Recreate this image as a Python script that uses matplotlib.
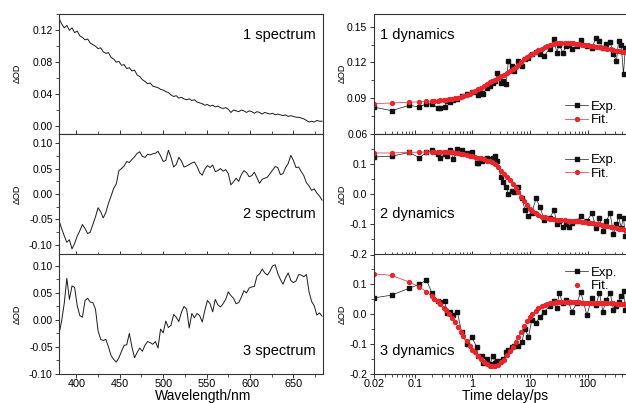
import numpy as np
import matplotlib
matplotlib.use("Agg")
import matplotlib.pyplot as plt
from matplotlib.ticker import MultipleLocator, FixedLocator, LogLocator, NullFormatter, FormatStrFormatter

plt.rcParams['font.family'] = ['Liberation Sans', 'DejaVu Sans']
plt.rcParams['axes.unicode_minus'] = False

# ---- spectra (3 nm grid) ----
wavelength = np.arange(380, 684, 3)

spec1 = [.135, .128, .123, .126, .120, .123, .117, .119, .113, .111, .108, .109, .104, .102, .100, .097,
         .098, .093, .091, .092, .086, .084, .080, .081, .076, .077, .072, .073, .069, .070, .064, .062,
         .058, .056, .053, .054, .050, .049, .048, .046, .045, .043, .042, .039, .037, .038, .035, .036,
         .034, .033, .034, .032, .033, .030, .029, .028, .026, .027, .025, .026, .024, .025, .023, .022,
         .023, .021, .017, .020, .019, .018, .020, .019, .017, .019, .018, .016, .018, .017, .015, .017,
         .016, .015, .016, .014, .015, .014, .013, .014, .012, .013, .012, .011, .011, .010, .009, .007,
         .005, .006, .005, .007, .006, .006]

spec2 = [-.052, -.068, -.082, -.095, -.090, -.108, -.097, -.083, -.072, -.060, -.068, -.078, -.075, -.060,
         -.045, -.027, -.035, -.047, -.036, -.018, -.004, .011, .020, .046, .050, .055, .064, .062, .068,
         .073, .080, .083, .074, .072, .078, .077, .079, .080, .084, .075, .064, .066, .086, .072, .053,
         .058, .072, .065, .053, .055, .058, .061, .063, .054, .042, .037, .049, .056, .052, .057, .044,
         .046, .050, .045, .048, .040, .018, .024, .031, .025, .038, .046, .042, .034, .036, .043, .032,
         .021, .029, .031, .033, .040, .047, .054, .052, .038, .040, .052, .060, .076, .066, .052, .053,
         .044, .036, .022, .016, .007, .010, .002, -.004, -.012]

spec3 = [-.026, -.002, .030, .077, .038, .063, .060, .026, .008, .005, .036, .040, .033, .032, .020, -.020,
         -.036, -.038, -.036, -.050, -.066, -.073, -.078, -.070, -.058, -.047, -.046, -.025, -.050, -.070,
         -.060, -.052, -.058, -.047, -.040, -.042, -.045, -.040, -.052, -.017, -.024, -.002, -.014, -.010,
         .010, .005, -.003, .014, .025, .020, -.015, .012, .004, .012, .008, -.004, .018, .036, .030, .015,
         .038, .028, .024, .030, .038, .052, .045, .040, .030, .032, .042, .054, .050, .059, .061, .062,
         .081, .085, .094, .087, .083, .090, .100, .102, .086, .075, .066, .078, .087, .073, .069, .072,
         .084, .083, .080, .084, .052, .034, .026, .009, .013, .007]

# ---- kinetics ----
t_exp = [0.02, 0.04, 0.08, 0.12, 0.16, 0.2, 0.25, 0.28, 0.33, 0.37, 0.41, 0.47, 0.55, 0.65, 0.8, 0.98,
         1.19, 1.25, 1.46, 1.55, 1.78, 2.03, 2.24, 2.48, 2.72, 3.11, 3.45, 3.84, 4.22, 4.83, 5.36, 6.29,
         7.2, 8.2, 9.38, 10.7, 12.7, 14.8, 17.6, 21.8, 26.2, 29.1, 32, 37, 42.3, 47, 53, 64.6, 76, 97,
         118, 140, 160, 183, 210, 245, 280, 315, 343, 380, 418, 447]

exp1 = [.0824, .0796, .084, .0827, .0852, .0852, .0819, .0819, .083, .0874, .0866, .0889, .0894, .0916, .0937, .095,
        .095, .093, .094, .0934, .0987, .1006, .103, .1043, .111, .1024, .1043, .1015, .121, .117, .1127, .121,
        .117, .123, .124, .1267, .1286, .1267, .1253, .1315, .1393, .128, .135, .128, .1337, .135, .1315, .1337,
        .1387, .1337, .132, .1407, .138, .132, .1355, .137, .1267, .121, .138, .135, .110, .132]

exp2 = [.124, .126, .139, .121, .139, .146, .135, .121, .132, .126, .148, .116, .15, .146, .137, .139,
        .105, .105, .11, .116, .121, .118, .121, .126, .11, .056, .04, .024, .002, .01, .008, .024,
        -.014, -.052, -.073, -.063, -.014, -.041, -.084, -.08, -.052, -.1, -.089, -.109, -.1, -.109, -.095, -.09,
        -.073, -.089, -.063, -.111, -.078, -.122, -.089, -.063, -.132, -.1, -.073, -.111, -.078, -.138]

exp3 = [.055, .064, .087, .1, .115, .07, .043, .04, .043, .003, .009, -.003, .007, -.06, -.1, -.077,
        -.11, -.139, -.139, -.162, -.151, -.168, -.139, -.162, -.156, -.156, -.15, -.128, -.12, -.108, -.105, -.105,
        -.094, -.048, -.077, -.02, -.028, -.01, .009, .026, .043, .02, .072, .036, .048, .04, .009, .036,
        .074, -.003, .055, .032, .072, .009, .048, .072, .015, .026, .04, .06, .077, .015]

t_fit = [0.02, 0.04, 0.08, 0.12, 0.16,
         0.2, 0.22, 0.25, 0.28, 0.32, 0.35, 0.4, 0.45, 0.5, 0.56, 0.63, 0.7, 0.8, 0.9,
         1, 1.1, 1.25, 1.4, 1.6, 1.8, 2, 2.2, 2.5, 2.8, 3.2, 3.5, 4, 4.5, 5, 5.6, 6.3, 7, 8, 9,
         10, 11, 12.5, 14, 16, 18, 20, 22, 25, 28, 32, 35, 40, 45, 50, 56, 63, 70, 80, 90,
         100, 110, 125, 140, 160, 180, 200, 220, 250, 280, 320, 350, 400, 450]

fit1 = [.0855, .086, .0866, .087, .0873,
        .0876, .0878, .088, .0882, .0885, .0888, .0892, .0896, .09, .0905, .091, .0915, .0925, .0937,
        .095, .0962, .0975, .0988, .1003, .1018, .1032, .1043, .1055, .1068, .1083, .1095, .1113, .113, .1145,
        .1162, .1182, .12, .1225, .1245,
        .126, .1272, .1287, .13, .1315, .1327, .1337, .1345, .1355, .136, .1363, .1364, .1364, .1363, .1362,
        .136, .1357, .1354, .135, .1346,
        .1342, .1339, .1335, .1331, .1327, .1322, .1318, .1314, .1309, .1304, .1298, .1294, .1289, .1285]

fit2 = [.137, .137, .139, .14, .14,
        .141, .141, .141, .141, .141, .141, .14, .139, .138, .136, .134, .132, .13, .128,
        .126, .124, .121, .119, .116, .112, .109, .106, .1, .09, .078, .068, .056, .046, .035, .02, .008,
        -.008, -.022, -.037,
        -.048, -.055, -.063, -.069, -.074, -.077, -.079, -.081, -.083, -.084, -.085, -.086, -.087, -.088,
        -.088, -.089, -.089, -.09, -.091, -.092,
        -.094, -.095, -.097, -.098, -.1, -.102, -.104, -.106, -.108, -.11, -.112, -.114, -.116, -.118]

fit3 = [.135, .13, .108, .092, .075,
        .06, .052, .043, .034, .022, .013, 0.0, -.014, -.027, -.042, -.058, -.072, -.09, -.106,
        -.118, -.128, -.14, -.151, -.16, -.167, -.172, -.174, -.173, -.169, -.161, -.153, -.138, -.123, -.108,
        -.092, -.075, -.059, -.04, -.024,
        -.01, 0.0, .012, .02, .027, .032, .035, .037, .039, .04, .041, .041, .041, .041, .041, .04, .04, .04,
        .039, .039,
        .039, .038, .038, .038, .037, .037, .037, .036, .036, .036, .035, .035, .035, .034]

spec_labels = ["1 spectrum", "2 spectrum", "3 spectrum"]
dyn_labels = ["1 dynamics", "2 dynamics", "3 dynamics"]

W, H = 626, 403
fig = plt.figure(figsize=(W / 100, H / 100), dpi=100)

rows = [(13.5, 134), (134, 254.5), (254.5, 374)]
RED = '#e8262b'
AXC = '#333333'


def make_ax(x0, x1, row):
    y0, y1 = row
    return fig.add_axes([x0 / W, 1 - y1 / H, (x1 - x0) / W, (y1 - y0) / H])


def style(ax, bottom):
    for s in ax.spines.values():
        s.set_color(AXC)
        s.set_linewidth(0.8)
    ax.tick_params(axis='y', which='major', direction='out', length=3, width=0.7, labelsize=7.5, color=AXC, pad=1.5)
    ax.tick_params(axis='y', which='minor', direction='out', length=2, width=0.6, color=AXC)
    ax.tick_params(axis='x', which='major', direction='out' if bottom else 'in', length=3, width=0.7,
                   labelsize=7.8, color=AXC, labelbottom=bottom, pad=0.5)
    ax.tick_params(axis='x', which='minor', direction='out' if bottom else 'in', length=2, width=0.6, color=AXC)
    ax.set_ylabel('ΔOD', fontsize=6.5, labelpad=2)


# left: spectra
spectra = [spec1, spec2, spec3]
ylims_l = [(-0.01, 0.141), (-0.119, 0.118), (-0.10, 0.121)]
yticks_l = [[0.0, 0.04, 0.08, 0.12], [-0.10, -0.05, 0.0, 0.05, 0.10], [-0.10, -0.05, 0.0, 0.05, 0.10]]
yminor_l = [0.02, 0.025, 0.025]
ylab_y = [0.82, 0.336, 0.195]
for i in range(3):
    ax = make_ax(59, 322.5, rows[i])
    ax.plot(wavelength, spectra[i], color='#1a1a1a', lw=0.7)
    ax.set_xlim(380, 683.5)
    ax.set_ylim(*ylims_l[i])
    ax.set_yticks(yticks_l[i])
    ax.yaxis.set_minor_locator(MultipleLocator(yminor_l[i]))
    ax.yaxis.set_major_formatter(FormatStrFormatter('%.2f'))
    ax.xaxis.set_major_locator(MultipleLocator(50))
    ax.xaxis.set_minor_locator(MultipleLocator(25))
    style(ax, i == 2)
    ax.yaxis.set_label_coords(-0.14, 0.5)
    ax.text(0.975, ylab_y[i], spec_labels[i], transform=ax.transAxes, ha='right', va='center', fontsize=10.5)
    if i == 2:
        ax.set_xlabel('Wavelength/nm', fontsize=10)
        ax.xaxis.label.set_va('top')
        ax.xaxis.set_label_coords(0.546, -0.123)

# right: dynamics
exps = [exp1, exp2, exp3]
fits = [fit1, fit2, fit3]
ylims_r = [(0.06, 0.161), (-0.2, 0.2), (-0.2, 0.2)]
yticks_r = [[0.06, 0.09, 0.12, 0.15], [-0.2, -0.1, 0.0, 0.1], [-0.2, -0.1, 0.0, 0.1]]
yminor_r = [0.015, 0.05, 0.05]
yfmt_r = ['%.2f', '%.1f', '%.1f']
leg_anchor = [(0.72, 0.345), (0.72, 0.9), (0.72, 0.965)]
for i in range(3):
    ax = make_ax(373.5, 628, rows[i])
    ax.set_xscale('log')
    ax.plot(t_exp, exps[i], color='#1a1a1a', lw=0.5, marker='s', ms=2.6, mec='#111111', mfc='#111111',
            label='Exp.')
    if i == 2:
        ax.plot(t_fit, fits[i], color=RED, lw=0.5)
        ax.plot(t_fit, fits[i], color=RED, lw=0, marker='o', ms=2.8, label='Fit.')
    else:
        ax.plot(t_fit, fits[i], color=RED, lw=0.5, marker='o', ms=2.8, label='Fit.')
    ax.set_xlim(0.0193, 500)
    ax.set_ylim(*ylims_r[i])
    ax.set_yticks(yticks_r[i])
    ax.yaxis.set_minor_locator(MultipleLocator(yminor_r[i]))
    ax.yaxis.set_major_formatter(FormatStrFormatter(yfmt_r[i]))
    ax.xaxis.set_major_locator(FixedLocator([0.02, 0.1, 1, 10, 100]))
    ax.set_xticklabels(['0.02', '0.1', '1', '10', '100'])
    ax.xaxis.set_minor_locator(LogLocator(base=10, subs=np.arange(2, 10) * 0.1, numticks=20))
    ax.xaxis.set_minor_formatter(NullFormatter())
    style(ax, i == 2)
    ax.yaxis.set_label_coords(-0.105, 0.5)
    ax.text(0.026, ylab_y[i], dyn_labels[i], transform=ax.transAxes, ha='left', va='center', fontsize=10.5)
    ax.legend(loc='upper left', bbox_to_anchor=leg_anchor[i], frameon=False, fontsize=9.5,
              handlelength=1.8, handletextpad=0.2, labelspacing=0.1, borderpad=0.1)
    if i == 2:
        ax.set_xlabel('Time delay/ps', fontsize=10)
        ax.xaxis.label.set_va('top')
        ax.xaxis.set_label_coords(0.517, -0.123)

fig.savefig('out.png', dpi=100)
